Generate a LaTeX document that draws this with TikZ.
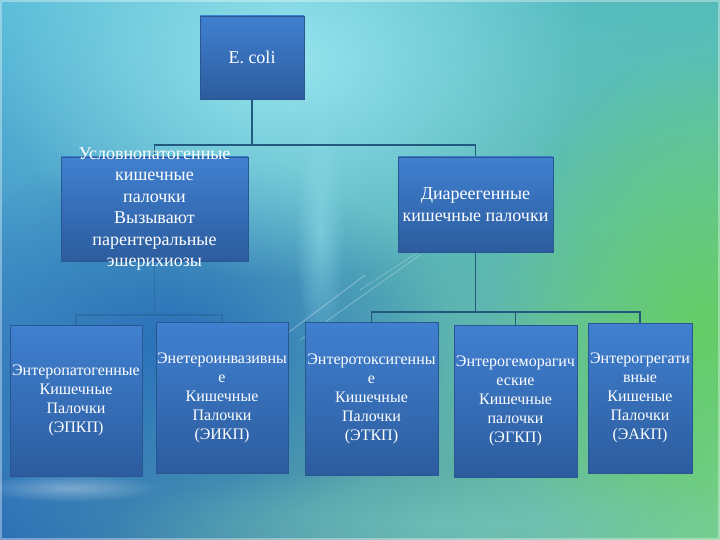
\documentclass[tikz,border=0pt]{standalone}
\usepackage{fontspec}
\setmainfont{Liberation Serif}
\usetikzlibrary{backgrounds,fadings,shadings}

% slide colours
\definecolor{bgtl}{RGB}{92,190,218}
\definecolor{bgtr}{RGB}{85,188,185}
\definecolor{bgbl}{RGB}{45,112,182}
\definecolor{bgbr}{RGB}{125,210,150}
\definecolor{glowcyan}{RGB}{150,228,238}
\definecolor{glowgreen}{RGB}{100,205,95}
\definecolor{glowblue}{RGB}{40,108,185}
\definecolor{glowlight}{RGB}{120,200,195}
\definecolor{boxtop}{RGB}{64,128,208}
\definecolor{boxbot}{RGB}{44,92,158}
\definecolor{boxedge}{RGB}{42,86,145}
\definecolor{linkc}{RGB}{36,89,127}

\tikzfading[name=glowfade, inner color=transparent!0, outer color=transparent!100]

\begin{document}
\begin{tikzpicture}[x=1pt, y=-1pt,
  orgbox/.style={draw=boxedge, line width=0.6pt, top color=boxtop, bottom color=boxbot,
                 inner xsep=0pt, text=white, align=center},
  midfont/.style={font=\fontsize{18}{21.5}\selectfont},
  lowfont/.style={font=\fontsize{16}{19}\selectfont},
  link/.style={draw=linkc, line width=1.6pt}]
  \useasboundingbox (0,0) rectangle (720,540);

  % Top level
  \node[orgbox, midfont, minimum width=104pt, minimum height=83pt] (ecoli) at (252,57.5) {E. coli};

  % Second level
  \node[orgbox, minimum width=187pt, minimum height=104pt,
        label={[midfont, text=white, align=center]center:Условнопатогенные\\кишечные\\палочки\\Вызывают\\парентеральные\\эшерихиозы}]
        (upg) at (154.5,209) {};
  \node[orgbox, midfont, minimum width=155pt, minimum height=95pt] (dia) at (475.5,204.5)
        {Диареегенные\\кишечные палочки};

  % Third level
  \node[orgbox, lowfont, minimum width=132pt, minimum height=151pt] (epkp) at (76,400.5)
        {Энтеропатогенные\\Кишечные\\Палочки\\(ЭПКП)};
  \node[orgbox, lowfont, minimum width=132pt, minimum height=151pt] (eikp) at (222,397.5)
        {Энетероинвазивны\\е\\Кишечные\\Палочки\\(ЭИКП)};
  \node[orgbox, lowfont, minimum width=133pt, minimum height=153pt] (etkp) at (371.5,398.5)
        {Энтеротоксигенны\\е\\Кишечные\\Палочки\\(ЭТКП)};
  \node[orgbox, lowfont, minimum width=123pt, minimum height=152pt] (egkp) at (515.5,401)
        {Энтерогеморагич\\еские\\Кишечные\\палочки\\(ЭГКП)};
  \node[orgbox, lowfont, minimum width=104pt, minimum height=150pt] (eakp) at (640,398)
        {Энтерогрегати\\вные\\Кишеные\\Палочки\\(ЭАКП)};

  % Junctions
  \coordinate (j0) at (252,145);
  \coordinate (j1) at (154.5,315);
  \coordinate (j2) at (475.5,312);

  \begin{scope}[on background layer]
    % Background
    \shade[upper left=bgtl, upper right=bgtr, lower left=bgbl, lower right=bgbr]
      (0,0) rectangle (720,540);
    \begin{scope}
      \clip (0,0) rectangle (720,540);
      \fill[glowblue, path fading=glowfade, opacity=0.9] (170,340) ellipse (280 and 190);
      \fill[glowcyan, path fading=glowfade] (290,60) ellipse (300 and 220);
      \fill[glowgreen, path fading=glowfade, opacity=0.9] (700,330) ellipse (210 and 280);
      \fill[glowlight, path fading=glowfade, opacity=0.6] (450,525) ellipse (340 and 60);
      \fill[white, path fading=glowfade, opacity=0.35] (70,488) ellipse (90 and 14);
      \fill[glowcyan, path fading=glowfade, opacity=0.5] (320,230) ellipse (25 and 130);
      \draw[white, opacity=0.35, line width=0.8pt] (285,335) -- (365,275);
      \draw[white, opacity=0.3, line width=0.8pt] (300,340) -- (420,255);
      \draw[white, opacity=0.25, line width=0.8pt] (360,290) -- (460,225);
    \end{scope}
    \draw[white, opacity=0.35, line width=2pt] (1,1) rectangle (719,539);

    % Connectors
    \draw[link] (ecoli) -- (j0);
    \draw[link] (upg.north) |- (j0) -| (dia.north);
    \draw[link, opacity=0.35] (upg.south) -- (j1);
    \draw[link, opacity=0.35] (epkp.north) |- (j1) -| (eikp.north);
    \draw[link] (dia.south) -- (j2);
    \draw[link] (etkp.north) |- (j2) -| (eakp.north);
    \draw[link] (j2) -| (egkp.north);
  \end{scope}
\end{tikzpicture}
\end{document}
